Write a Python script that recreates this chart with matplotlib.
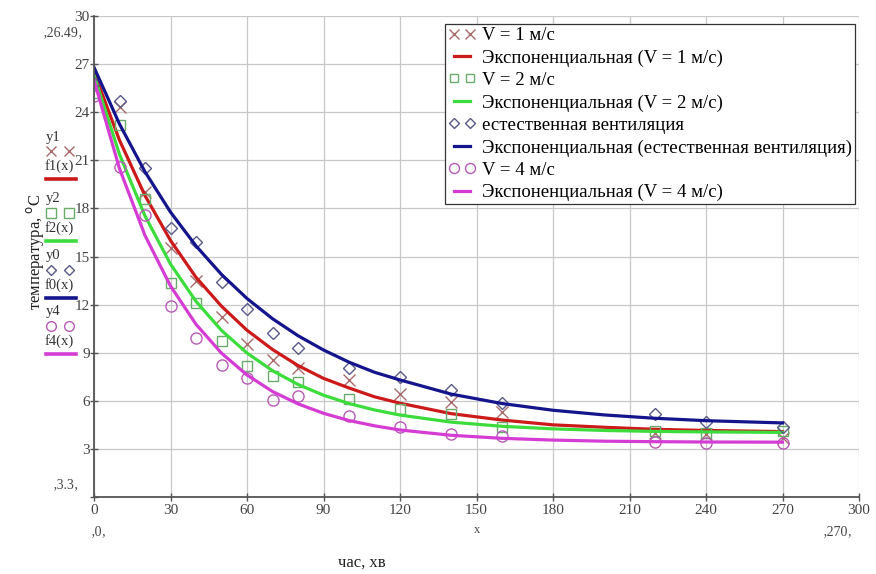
import matplotlib
matplotlib.use("Agg")
import matplotlib.pyplot as plt
from matplotlib.lines import Line2D

plt.rcParams['font.family'] = ['Liberation Serif', 'DejaVu Serif']

# measured points (time, min)
t_pts = [0, 10, 20, 30, 40, 50, 60, 70, 80, 100, 120, 140, 160, 220, 240, 270]
y1 = [25.5, 24.3, 19.0, 15.5, 13.5, 11.2, 9.55, 8.55, 8.05, 7.3, 6.4, 5.95, 5.3, 4.0, 3.9, 3.7]
y2 = [25.2, 23.2, 18.6, 13.35, 12.1, 9.7, 8.15, 7.55, 7.2, 6.1, 5.5, 5.2, 4.35, 4.1, 4.0, 4.1]
y0 = [25.8, 24.7, 20.5, 16.8, 15.9, 13.4, 11.7, 10.2, 9.3, 8.05, 7.5, 6.7, 5.85, 5.2, 4.7, 4.35]
y4 = [25.0, 20.6, 17.6, 11.9, 9.9, 8.25, 7.4, 6.05, 6.3, 5.06, 4.35, 3.9, 3.8, 3.45, 3.35, 3.35]

# exponential trend lines
t_fit = [0, 10, 20, 30, 40, 50, 60, 70, 80, 90, 100, 110, 120, 140, 160, 180, 200, 220, 240, 270]
f1 = [26.5, 22.25, 18.8, 16.0, 13.7, 11.9, 10.4, 9.2, 8.2, 7.4, 6.8, 6.25, 5.85, 5.2, 4.8, 4.5, 4.35, 4.22, 4.15, 4.08]
f2 = [26.3, 21.37, 17.53, 14.53, 12.2, 10.39, 8.98, 7.88, 7.02, 6.35, 5.83, 5.43, 5.11, 4.67, 4.41, 4.25, 4.15, 4.09, 4.06, 4.03]
f0 = [26.8, 23.26, 20.28, 17.77, 15.66, 13.88, 12.38, 11.12, 10.06, 9.17, 8.41, 7.78, 7.3, 6.42, 5.83, 5.41, 5.12, 4.91, 4.76, 4.62]
f4 = [26.0, 20.48, 16.31, 13.16, 10.77, 8.97, 7.61, 6.58, 5.81, 5.22, 4.77, 4.44, 4.18, 3.85, 3.66, 3.55, 3.48, 3.45, 3.43, 3.42]

x_ticks = list(range(0, 301, 30))
y_ticks = list(range(0, 31, 3))

red, green, blue, pink = '#cc1a1a', '#3ddc3d', '#14148c', '#d43cd4'

W, H = 876, 574
fig = plt.figure(figsize=(W / 100, H / 100), dpi=100)
ax = fig.add_axes([94 / W, 1 - 497 / H, 765 / W, 481 / H])

ax.plot(t_pts, y1, ls='none', marker='x', ms=8, mew=1.0, color='#a86a6a', label='V = 1 м/с')
ax.plot(t_fit, f1, color=red, lw=2.3, label='Экспоненциальная (V = 1 м/с)')
ax.plot(t_pts, y2, ls='none', marker='s', ms=7, mew=1.0, mfc='none', mec='#6aaa6a', label='V = 2 м/с')
ax.plot(t_fit, f2, color=green, lw=2.3, label='Экспоненциальная (V = 2 м/с)')
ax.plot(t_pts, y0, ls='none', marker='D', ms=6, mew=1.0, mfc='none', mec='#5a5a8a', label='естественная вентиляция')
ax.plot(t_fit, f0, color=blue, lw=2.3, label='Экспоненциальная (естественная вентиляция)')
ax.plot(t_pts, y4, ls='none', marker='o', ms=8, mew=1.0, mfc='none', mec='#b65ab6', label='V = 4 м/с')
ax.plot(t_fit, f4, color=pink, lw=2.3, label='Экспоненциальная (V = 4 м/с)')

ax.set_xlim(0, 300)
ax.set_ylim(0, 30)
ax.set_xticks(x_ticks)
ax.set_yticks(y_ticks)
ax.set_yticklabels(['' if v == 0 else str(v) for v in y_ticks])
ax.grid(True, color='#c8c8c8', lw=0.9)
ax.set_axisbelow(True)
for s in ['top', 'right']:
    ax.spines[s].set_visible(False)
for s in ['left', 'bottom']:
    ax.spines[s].set_color('#555555')
    ax.spines[s].set_linewidth(1.3)
ax.tick_params(direction='inout', length=6, width=1, colors='#555555', labelcolor='#444444', labelsize=11)
ax.tick_params(axis='y', pad=0)
ax.tick_params(axis='x', pad=2)

leg = ax.legend(loc='upper left', bbox_to_anchor=(0.459, 0.983), numpoints=2, fontsize=13.5,
                frameon=True, fancybox=False, edgecolor='#333333', framealpha=1,
                borderpad=0.15, labelspacing=0.28, handlelength=1.5, handletextpad=0.3,
                borderaxespad=0, markerscale=0.9)
leg.get_frame().set_linewidth(0.9)

# Mathcad-style trace labels on the left
def ftext(x, y, s, **kw):
    fig.text(x / W, 1 - y / H, s, ha='left', va='center', color='#333333', fontsize=10.5, **kw)

keys = [('y1', 'f1(x)', 'x', '#a86a6a', red, 137),
        ('y2', 'f2(x)', 's', '#6aaa6a', green, 199),
        ('y0', 'f0(x)', 'D', '#5a5a8a', blue, 256),
        ('y4', 'f4(x)', 'o', '#b65ab6', pink, 312)]
for yname, fname, mk, mc, lc, ytop in keys:
    ftext(46, ytop, yname)
    fig.add_artist(Line2D([51 / W, 69 / W], [1 - (ytop + 14) / H] * 2, transform=fig.transFigure,
                          ls='none', marker=mk, ms=7 if mk != 'D' else 5, mew=1.0,
                          mfc='none', mec=mc, color=mc))
    ftext(45, ytop + 29, fname)
    fig.add_artist(Line2D([46 / W, 76 / W], [1 - (ytop + 42) / H] * 2, transform=fig.transFigure,
                          color=lc, lw=2.6))

fig.text(63 / W, 1 - 33 / H, '\u201a26.49\u201a', ha='center', va='center', fontsize=10, color='#444444')
fig.text(66 / W, 1 - 485 / H, '\u201a3.3\u201a', ha='center', va='center', fontsize=10, color='#444444')
fig.text(99 / W, 1 - 532 / H, '\u201a0\u201a', ha='center', va='center', fontsize=10, color='#444444')
fig.text(838 / W, 1 - 532 / H, '\u201a270\u201a', ha='center', va='center', fontsize=10, color='#444444')
fig.text(477 / W, 1 - 530 / H, 'x', ha='center', va='center', fontsize=9, color='#444444')
fig.text(362 / W, 1 - 563 / H, 'час, хв', ha='center', va='center', fontsize=12, color='#222222')
fig.text(35 / W, 1 - 252 / H, 'температура, $^{\\mathrm{o}}$C', rotation=90, ha='center', va='center',
         fontsize=12, color='#222222')

fig.savefig('out.png', dpi=100)
